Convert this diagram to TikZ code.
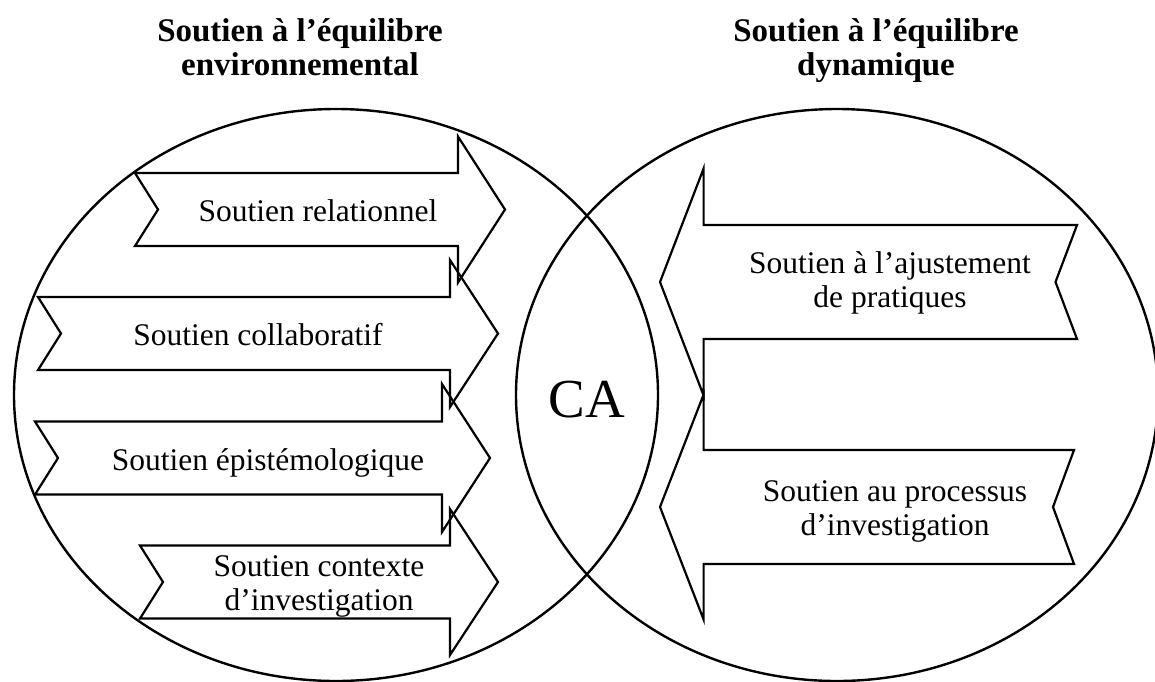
\documentclass[tikz,border=0pt]{standalone}
\usepackage{fontspec}
\setmainfont{Liberation Serif}
\newcommand\ArrR[7]{% left x, notch depth, body right, tip x, centre y, shaft half, head half
  \draw[ln] ({#1},{#5-#6}) -- ({#3},{#5-#6}) -- ({#3},{#5-#7}) -- ({#4},{#5})
    -- ({#3},{#5+#7}) -- ({#3},{#5+#6}) -- ({#1},{#5+#6}) -- ({#1+#2},{#5}) -- cycle;}
\newcommand\ArrL[7]{% right x, notch depth, body left, tip x, centre y, shaft half, head half
  \draw[ln] ({#1},{#5-#6}) -- ({#3},{#5-#6}) -- ({#3},{#5-#7}) -- ({#4},{#5})
    -- ({#3},{#5+#7}) -- ({#3},{#5+#6}) -- ({#1},{#5+#6}) -- ({#1-#2},{#5}) -- cycle;}
\begin{document}
\begin{tikzpicture}[x=1pt,y=-1pt,line join=miter,
  ln/.style={draw=black,line width=2.2pt},
  body/.style={font=\fontsize{31.5}{33.5}\selectfont,inner sep=0pt,align=center},
  ttl/.style={font=\bfseries\fontsize{33}{33.5}\selectfont,inner sep=0pt,align=center}]
\useasboundingbox (0,0) rectangle (1155,681);
% circles
\draw[ln,line width=2.4pt] (336,395) ellipse [x radius=322pt,y radius=286pt];
\draw[ln,line width=2.4pt] (837,395) ellipse [x radius=321pt,y radius=286pt];
% left arrows
\ArrR{135}{23}{458}{505}{209.5}{36.5}{73}
\ArrR{38}{23}{450}{498}{333.5}{36.5}{73.5}
\ArrR{35}{23}{442}{490}{458}{36.5}{74}
\ArrR{140}{23}{450}{498}{582}{36.5}{73}
% right arrows
\ArrL{1077}{21.5}{703.6}{660}{282}{57}{113.5}
\ArrL{1074}{21}{703.6}{660}{507}{57}{112.5}
% titles
\node[ttl] (t1) at (300,47) {Soutien à l’équilibre\\environnemental};
\node[ttl] (t2) at (876,50.5) {Soutien à l’équilibre\\dynamique};
% labels
\node[body,anchor=base] (a1) at (318,221) {Soutien relationnel};
\node[body,anchor=base] (a2) at (258,345) {Soutien collaboratif};
\node[body,anchor=base] (a3) at (268,470) {Soutien épistémologique};
\node[body] (a4) at (319,586.4) {Soutien contexte\\d’investigation};
\node[body] (b1) at (890,283) {Soutien à l’ajustement\\de pratiques};
\node[body] (b2) at (895,511.4) {Soutien au processus\\d’investigation};
\node[font=\fontsize{55}{60}\selectfont,inner sep=0pt,anchor=base] (ca) at (587,417) {CA};
\end{tikzpicture}
\end{document}
